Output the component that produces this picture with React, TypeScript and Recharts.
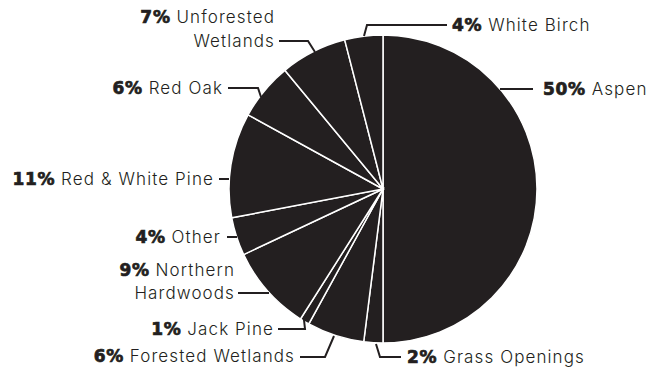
import React from 'react';
import { PieChart, Pie, Cell } from 'recharts';

const names = ['Aspen', 'Grass Openings', 'Forested Wetlands', 'Jack Pine', 'Northern Hardwoods', 'Other', 'Red & White Pine', 'Red Oak', 'Unforested Wetlands', 'White Birch'];
const shares = [50, 2, 6, 1, 9, 4, 11, 6, 7, 4];
const labelRows = [['Aspen'], ['Grass Openings'], ['Forested Wetlands'], ['Jack Pine'], ['Northern', 'Hardwoods'], ['Other'], ['Red & White Pine'], ['Red Oak'], ['Unforested', 'Wetlands'], ['White Birch']];

const data = names.map((name, i) => ({ name, value: shares[i] }));

// leader-line layout relative to the pie centre
const layout: { pts: number[][]; anchor: 'start' | 'end'; tx: number; ty: number[] }[] = [
  { pts: [[117, -100], [150, -100]], anchor: 'start', tx: 160, ty: [-100] },
  { pts: [[-7, 155], [-3, 168], [18, 168]], anchor: 'start', tx: 24, ty: [168] },
  { pts: [[-49, 147], [-58, 168], [-83, 168]], anchor: 'end', tx: 88, ty: [167] },
  { pts: [[-79, 131], [-78, 140], [-105, 140]], anchor: 'end', tx: 109, ty: [140] },
  { pts: [[-114, 104], [-145, 104]], anchor: 'end', tx: 148, ty: [81, 104] },
  { pts: [[-146, 48], [-156, 48]], anchor: 'end', tx: 162, ty: [48] },
  { pts: [[-154, -10], [-164, -10]], anchor: 'end', tx: 169, ty: [-10] },
  { pts: [[-122, -92], [-125, -101], [-155, -101]], anchor: 'end', tx: 160, ty: [-101] },
  { pts: [[-68, -137], [-75, -148], [-104, -148]], anchor: 'end', tx: 108, ty: [-172, -148] },
  { pts: [[-19, -153], [-16, -164], [64, -164]], anchor: 'start', tx: 69, ty: [-164] },
];

const INK = '#231f20';

const renderLabel = (props: any) => {
  const { cx, cy, index } = props;
  const l = layout[index];
  const rows = labelRows[index];
  const x = l.anchor === 'start' ? cx + l.tx : cx - l.tx;
  const ptsStr = l.pts.map((p) => `${cx + p[0]},${cy + p[1]}`).join(' ');
  return (
    <g key={`lab-${index}`}>
      <polyline points={ptsStr} fill="none" stroke={INK} strokeWidth={2} />
      {rows.map((row, r) => (
        <text
          key={r}
          x={x}
          y={cy + l.ty[r]}
          textAnchor={l.anchor}
          dominantBaseline="central"
          fontFamily="Inter, 'Liberation Sans', sans-serif"
          fontSize={17}
          fill={INK}
        >
          {r === 0 && (
            <tspan fontFamily="'DejaVu Sans', sans-serif" fontWeight={700} stroke={INK} strokeWidth={0.7} letterSpacing={0.7}>
              {shares[index]}%
            </tspan>
          )}
          <tspan fontWeight={300} letterSpacing={1.1}>{r === 0 ? ' ' + row : row}</tspan>
        </text>
      ))}
    </g>
  );
};

export default function App() {
  return (
    <div style={{ position: 'absolute', left: 0, top: 0, width: 660, height: 370, background: '#fff' }}>
      <PieChart width={660} height={370} margin={{ top: 0, right: 0, bottom: 0, left: 0 }}>
        <Pie
          data={data}
          dataKey="value"
          nameKey="name"
          cx={383}
          cy={189}
          outerRadius={154}
          startAngle={90}
          endAngle={-270}
          stroke="#ffffff"
          strokeWidth={1.5}
          label={renderLabel}
          labelLine={false}
          isAnimationActive={false}
        >
          {data.map((d, i) => (
            <Cell key={i} fill={INK} />
          ))}
        </Pie>
      </PieChart>
    </div>
  );
}
